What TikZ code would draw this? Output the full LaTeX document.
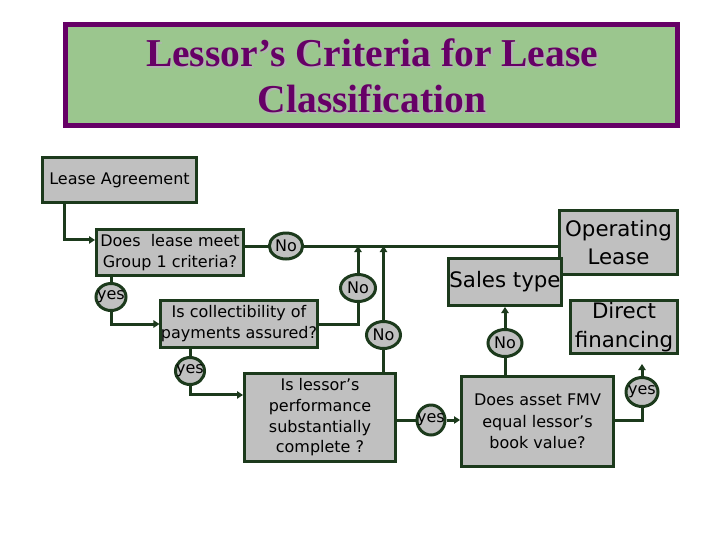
\documentclass[tikz,border=0pt]{standalone}
\usepackage{fontspec}
\setmainfont{DejaVu Sans}
\newfontfamily\titlefont{Liberation Serif}
\usetikzlibrary{shapes.geometric,arrows.meta}
\definecolor{dkgreen}{RGB}{28,58,28}
\definecolor{boxgray}{RGB}{192,192,192}
\definecolor{titlegreen}{RGB}{155,198,142}
\definecolor{titlepurple}{RGB}{102,0,102}
\begin{document}
\begin{tikzpicture}[x=0.75pt,y=-0.75pt,
  box/.style={draw=dkgreen,fill=boxgray,line width=2.25pt,inner sep=0pt,align=center,
    font=\fontsize{12}{15.75}\selectfont},
  bigbox/.style={box,font=\fontsize{16}{21.5}\selectfont},
  ovaltext/.style={inner sep=0pt,font=\fontsize{12}{14}\selectfont},
  oval/.style={ellipse,draw=dkgreen,fill=boxgray,line width=2.25pt,inner sep=0pt,
    label={[ovaltext]center:#1}},
  conn/.style={draw=dkgreen,line width=2.25pt},
  arr/.style={conn,-{Triangle[length=4.5pt,width=5.5pt]}},
  titletxt/.style={inner sep=0pt,align=center,
    font=\titlefont\bfseries\fontsize{29.6}{34.5}\selectfont}
]
\useasboundingbox (0,0) rectangle (720,540);
\fill[white] (0,0) rectangle (720,540);

% title
\node[draw=titlepurple,fill=titlegreen,line width=3.75pt,minimum width=459pt,
  minimum height=75.75pt,inner sep=0pt] (title) at (371.5,75) {};
\node[titletxt,text=black!30] (titleshadow) at (374,77.5) {Lessor’s Criteria for Lease\\Classification};
\node[titletxt,text=titlepurple] (titletext) at (372,75.5) {Lessor’s Criteria for Lease\\Classification};

% boxes
\node[box,minimum width=115.5pt,minimum height=33.75pt] (lease) at (119.5,180) {Lease Agreement};
\node[box,minimum width=110.25pt,minimum height=34.5pt] (g1) at (170,252.5) {Does\ \ lease meet\\ Group 1 criteria?};
\node[box,minimum width=114.75pt,minimum height=35.25pt] (coll) at (239,324) {Is collectibility of\\payments assured?};
\node[box,minimum width=113.25pt,minimum height=66pt,font=\fontsize{12}{15.5}\selectfont] (lessor) at (320,417.5) {Is lessor’s\\performance\\substantially\\complete ?};
\node[box,minimum width=114pt,minimum height=67.5pt,font=\fontsize{12}{16}\selectfont] (fmv) at (537.5,421.5) {Does asset FMV\\equal lessor’s\\book value?};

% ovals
\node[oval=No,minimum width=25pt,minimum height=19.5pt] (no1) at (286,246) {};
\node[oval=yes,minimum width=22.5pt,minimum height=20.25pt] (yes1) at (111,297) {};
\node[oval=No,minimum width=26.25pt,minimum height=20.25pt] (no2) at (358,288) {};
\node[oval=yes,minimum width=21.75pt,minimum height=20.25pt] (yes2) at (190,371) {};
\node[oval=No,minimum width=25.5pt,minimum height=20.25pt] (no3) at (383.5,335) {};
\node[oval=yes,minimum width=21pt,minimum height=22.5pt] (yes3) at (431,420) {};
\node[oval=No,minimum width=25.5pt,minimum height=20.25pt] (no4) at (505,343) {};
\node[oval=yes,minimum width=24pt,minimum height=21.75pt] (yes4) at (642,392) {};

% main line and result boxes
\node[bigbox,minimum width=88.5pt,minimum height=48pt] (oplease) at (618.5,242.5) {Operating\\Lease};
\draw[conn] (g1.east |- no1) -- (no1.west);
\draw[conn] (no1.east) -- (oplease.west |- no1);
\node[bigbox,minimum width=84.75pt,minimum height=35.25pt] (sales) at (505,282) {Sales type};
\node[bigbox,minimum width=80.25pt,minimum height=39.75pt] (direct) at (624,327) {Direct\\financing};

% lease -> g1
\draw[arr] ([xshift=17.6pt]lease.south west) |- ([yshift=9.4pt]g1.west);
% g1 -> yes1 -> coll
\draw[conn] (yes1 |- g1.south) -- (yes1.north);
\draw[arr] (yes1.south) |- (coll.west);
% coll -> no2 -> main
\draw[conn] (coll.east) -| (no2.south);
\draw[arr] (no2.north) -- (no2 |- no1.east);
% coll -> yes2 -> lessor
\draw[conn] (yes2 |- coll.south) -- (yes2.north);
\draw[arr] (yes2.south) |- ([yshift=16.9pt]lessor.west);
% lessor -> no3 -> main
\draw[conn] (no3 |- lessor.north) -- (no3.south);
\draw[arr] (no3.north) -- (no3 |- no1.east);
% lessor -> yes3 -> fmv
\draw[conn] (lessor.east |- yes3) -- (yes3.west);
\draw[arr] (yes3.east) -- (fmv.west |- yes3);
% fmv -> no4 -> sales
\draw[conn] (no4 |- fmv.north) -- (no4.south);
\draw[arr] (no4.north) -- (sales.south);
% fmv -> yes4 -> direct
\path (yes4 |- direct.south) ++(0,9) coordinate (dtip);
\draw[conn] (fmv.east |- yes3) -| (yes4.south);
\draw[arr] (yes4.north) -- (dtip);
\end{tikzpicture}
\end{document}
